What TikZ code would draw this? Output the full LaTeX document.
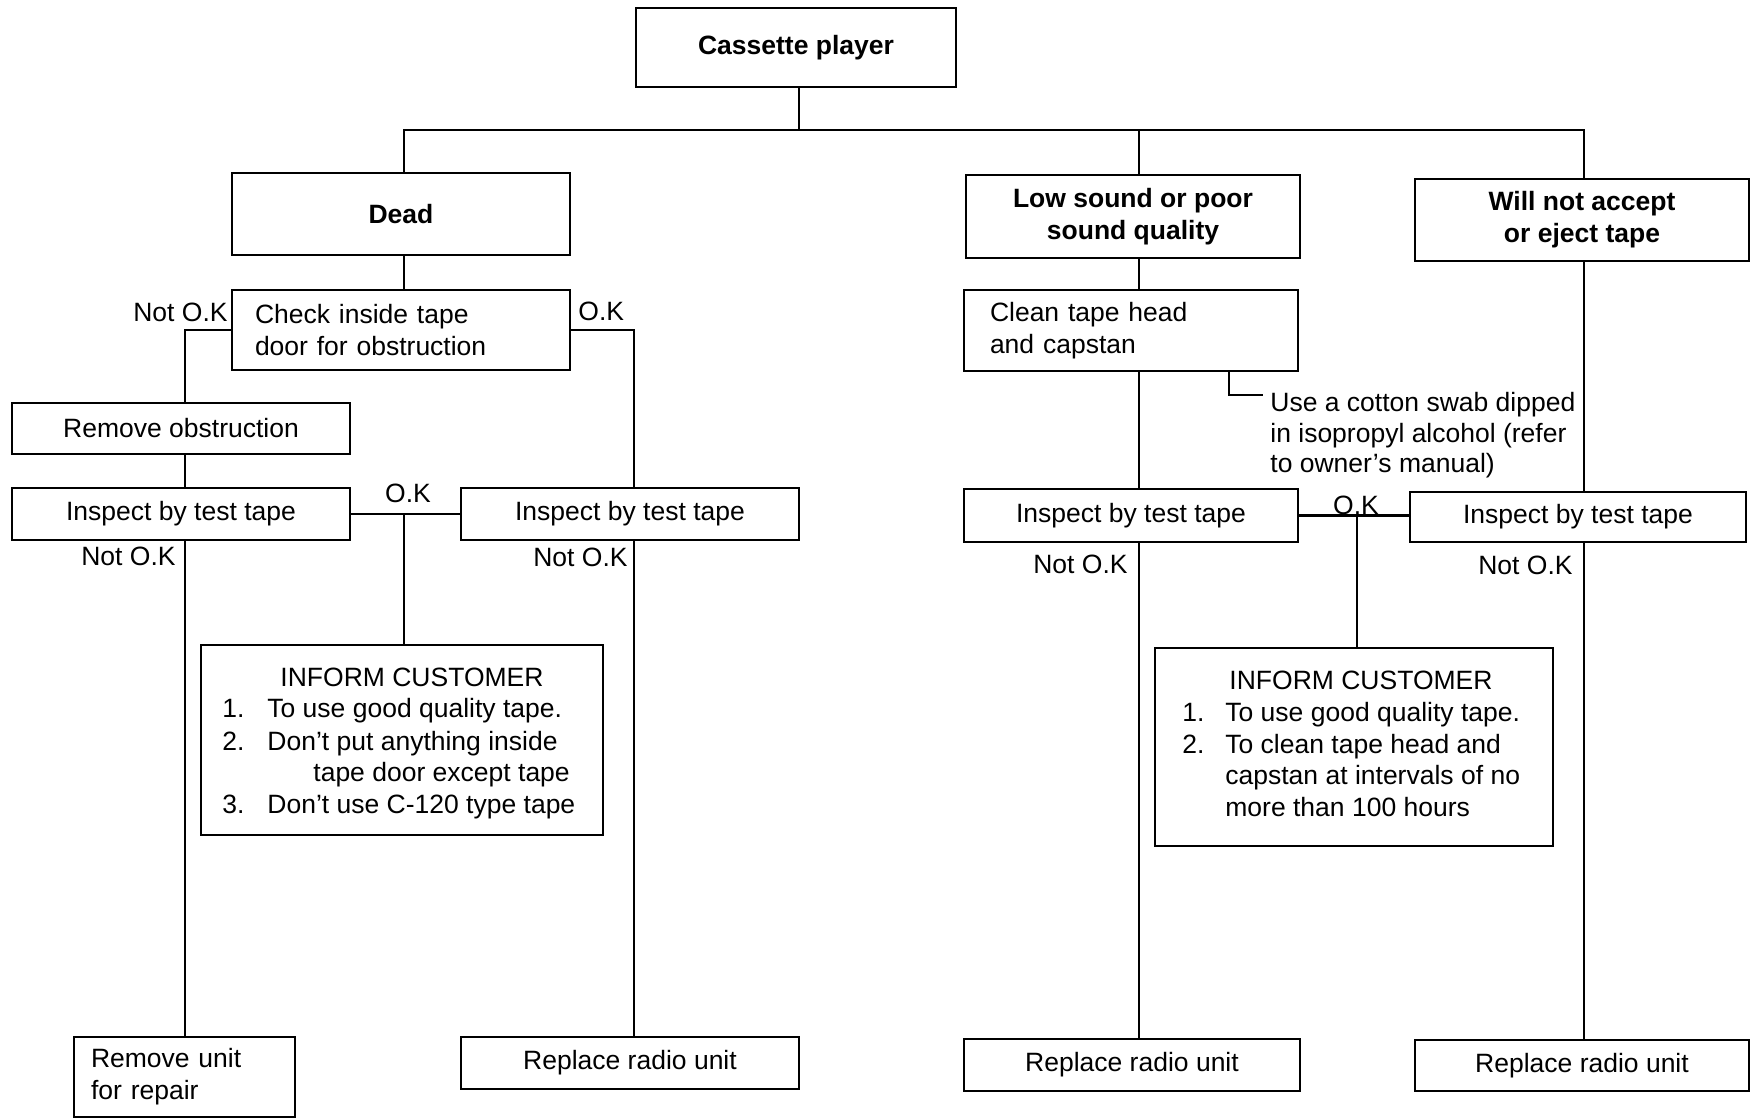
\documentclass[tikz,border=0pt]{standalone}
\usepackage{fontspec}
\setmainfont{Liberation Sans}
\begin{document}
\begin{tikzpicture}[x=0.5pt,y=-0.5pt,
  font=\fontsize{13.25pt}{16pt}\selectfont,
  box/.style={draw, line width=1.45pt, inner sep=0pt, outer sep=0pt, align=center},
  bbox/.style={box, font=\fontsize{13.25pt}{16pt}\selectfont\bfseries},
  lbox/.style={draw, line width=1.45pt, outer sep=0pt, inner ysep=0pt, align=left},
  conn/.style={line width=1.1pt},
  lbl/.style={inner sep=0pt},
  txt/.style={inner sep=0pt, anchor=base west},
  ctxt/.style={inner sep=0pt, anchor=base},
]
\useasboundingbox (0,0) rectangle (1752,1118);

% columns
\coordinate (cC) at (799,0);
\coordinate (cD) at (404,0);
\coordinate (cL1) at (185,0);
\coordinate (cR1) at (634,0);
\coordinate (cL) at (1139,0);
\coordinate (cK) at (1357,0);
\coordinate (cW) at (1584,0);
\coordinate (cN) at (1229,0);
\coordinate (bar) at (0,130);
\coordinate (noteend) at (1263,395);

% boxes
\node[bbox, minimum width=160pt, minimum height=39.5pt] (cass) at (796,47.5) {Cassette player};
\node[bbox, minimum width=169pt, minimum height=41pt] (dead) at (401,214) {Dead};
\node[lbox, inner xsep=11.5pt, text width=146pt, minimum height=40pt] (check) at (401,330) {Check inside tape\\door for obstruction};
\node[box, minimum width=169pt, minimum height=25.5pt] (remobs) at (181,428.5) {Remove obstruction};
\node[box, minimum width=169pt, minimum height=26pt] (insp1) at (181,514) {Inspect by test tape};
\node[box, minimum width=169pt, minimum height=26pt] (insp2) at (630,514) {Inspect by test tape};
\node[box, minimum width=201pt, minimum height=95pt] (inf1) at (402,740) {};
\node[lbox, inner xsep=8.5pt, text width=93.5pt, minimum height=40pt] (remunit) at (184.5,1077) {Remove unit\\for repair};
\node[box, minimum width=169pt, minimum height=26pt] (rep1) at (630,1063) {Replace radio unit};

\node[bbox, minimum width=167pt, minimum height=41.5pt] (low) at (1133,216.5) {Low sound or poor\\sound quality};
\node[lbox, inner xsep=13pt, text width=141pt, minimum height=40.5pt] (clean) at (1131,330.5) {Clean tape head\\and capstan};
\node[bbox, minimum width=167pt, minimum height=41pt] (will) at (1582,220) {Will not accept\\or eject tape};
\node[box, minimum width=167pt, minimum height=26.5pt] (insp3) at (1131,515.5) {Inspect by test tape};
\node[box, minimum width=168pt, minimum height=25pt] (insp4) at (1578,517) {Inspect by test tape};
\node[box, minimum width=199pt, minimum height=99pt] (inf2) at (1354,747) {};
\node[box, minimum width=168pt, minimum height=26pt] (rep2) at (1132,1065) {Replace radio unit};
\node[box, minimum width=167pt, minimum height=25.5pt] (rep3) at (1582,1065.5) {Replace radio unit};

% inform customer 1
\node[ctxt] (i1h) at (412,686) {INFORM CUSTOMER};
\node[txt] (i1n1) at (222,717) {1.};
\node[txt] (i1t1) at (267,717) {To use good quality tape.};
\node[txt] (i1n2) at (222,750) {2.};
\node[txt] (i1t2) at (267,750) {Don’t put anything inside};
\node[txt] (i1t2b) at (313,781) {tape door except tape};
\node[txt] (i1n3) at (222,813) {3.};
\node[txt] (i1t3) at (267,813) {Don’t use C-120 type tape};

% inform customer 2
\node[ctxt] (i2h) at (1361,689) {INFORM CUSTOMER};
\node[txt] (i2n1) at (1182,721) {1.};
\node[txt] (i2t1) at (1225,721) {To use good quality tape.};
\node[txt] (i2n2) at (1182,753) {2.};
\node[txt] (i2t2) at (1225,753) {To clean tape head and};
\node[txt] (i2t2b) at (1225,784) {capstan at intervals of no};
\node[txt] (i2t2c) at (1225,816) {more than 100 hours};

% note
\node[txt] (note1) at (1270,411) {Use a cotton swab dipped};
\node[txt] (note2) at (1270,443) {in isopropyl alcohol (refer};
\node[txt] (note3) at (1270,473) {to owner’s manual)};

% labels
\node[lbl, anchor=east] (nok1) at (228,312) {Not O.K};
\node[lbl, anchor=west] (ok1) at (578,311) {O.K};
\node[lbl] (ok2) at (408,493) {O.K};
\node[lbl, anchor=east] (nok2) at (176,556) {Not O.K};
\node[lbl, anchor=east] (nok3) at (628,557) {Not O.K};
\node[lbl, anchor=east] (nok4) at (1128,564) {Not O.K};
\node[lbl] (ok3) at (1356,505) {O.K};
\node[lbl, anchor=east] (nok5) at (1573,565) {Not O.K};

% connectors
\draw[conn] (cass.south -| cC) -- (cC |- bar);
\draw[conn] (dead.north -| cD) -- (cD |- bar) -- (cW |- bar) -- (will.north -| cW);
\draw[conn] (cL |- bar) -- (low.north -| cL);
\draw[conn] (dead.south -| cD) -- (check.north -| cD);
\draw[conn] (check.west) -| (remobs.north -| cL1);
\draw[conn] (check.east) -| (insp2.north -| cR1);
\draw[conn] (remobs.south -| cL1) -- (insp1.north -| cL1);
\draw[conn] (insp1.east) -- (insp2.west);
\draw[conn] (insp1.east -| cD) -- (inf1.north -| cD);
\draw[conn] (insp1.south -| cL1) -- (remunit.north -| cL1);
\draw[conn] (insp2.south -| cR1) -- (rep1.north -| cR1);

\draw[conn] (low.south -| cL) -- (clean.north -| cL);
\draw[conn] (clean.south -| cL) -- (insp3.north -| cL);
\draw[conn] (clean.south -| cN) -- (cN |- noteend) -- (noteend);
\draw[conn] (insp3.east) -- (insp4.west |- insp3.east);
\draw[conn] (insp3.east -| cK) -- (inf2.north -| cK);
\draw[conn] (will.south -| cW) -- (insp4.north -| cW);
\draw[conn] (insp3.south -| cL) -- (rep2.north -| cL);
\draw[conn] (insp4.south -| cW) -- (rep3.north -| cW);
\end{tikzpicture}
\end{document}
